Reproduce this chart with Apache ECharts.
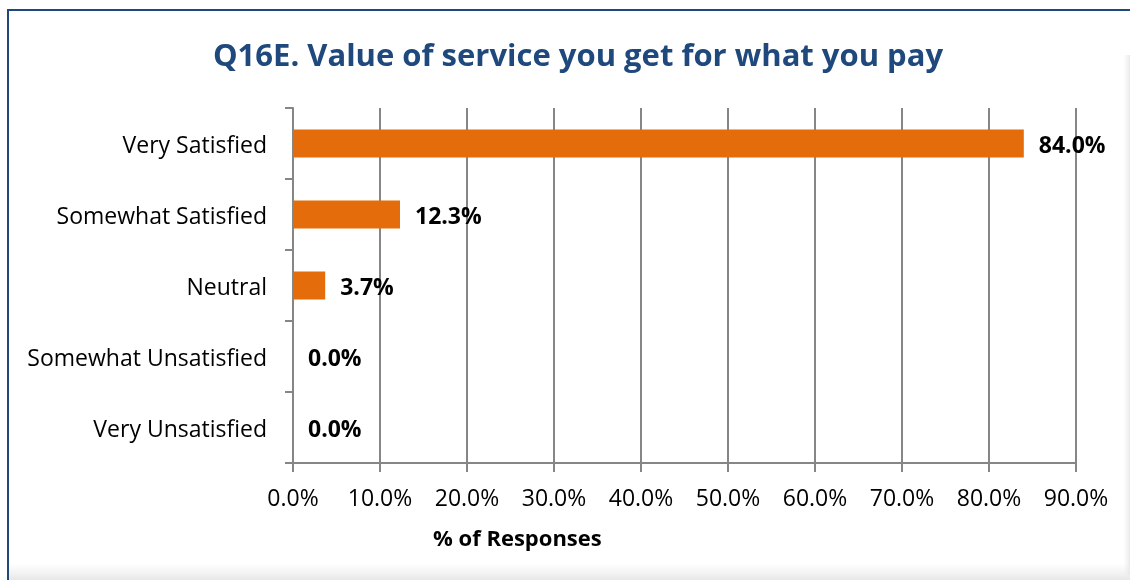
<!DOCTYPE html>
<html>
<head>
<meta charset="utf-8">
<script src="https://cdn.jsdelivr.net/npm/echarts@6/dist/echarts.min.js"></script>
<style>
html,body{margin:0;padding:0;background:#fff;}
#Charts1{width:1130px;height:580px;}
</style>
</head>
<body>
<div id="Charts1"></div>
<script>
// data
var categories = ['Very Satisfied', 'Somewhat Satisfied', 'Neutral', 'Somewhat Unsatisfied', 'Very Unsatisfied'];
var values = [84.0, 12.3, 3.7, 0.0, 0.0];
var xTicks = [0, 10, 20, 30, 40, 50, 60, 70, 80, 90];

var FONT = '"Open Sans", sans-serif';
var myChart = echarts.init(document.getElementById('Charts1'));

var option = {
	backgroundColor: '#fff',
	animation: false,
	title: {
		text: 'Q16E. Value of service you get for what you pay',
		left: 573,
		top: 37,
		textAlign: 'center',
		textStyle: {fontFamily: FONT, fontSize: 31, fontWeight: 'bold', color: '#1F497D'}
	},
	graphic: [
		// frame: blue top + left edge, faint shadow bottom/right
		{type: 'rect', shape: {x: 8, y: 10, width: 1200, height: 700},
			style: {fill: 'none', stroke: '#1F497D', lineWidth: 2}, z: 100},
		{type: 'rect', shape: {x: 9, y: 563, width: 1125, height: 20},
			style: {fill: new echarts.graphic.LinearGradient(0, 0, 0, 1, [
				{offset: 0, color: 'rgba(235,235,235,0)'}, {offset: 1, color: 'rgba(225,225,225,1)'}])}, z: 90},
		{type: 'rect', shape: {x: 1123, y: 55, width: 8, height: 520},
			style: {fill: new echarts.graphic.LinearGradient(0, 0, 1, 0, [
				{offset: 0, color: 'rgba(240,240,240,0)'}, {offset: 1, color: 'rgba(228,228,228,1)'}])}, z: 90},
		{type: 'text', left: 433, top: 529,
			style: {text: '% of Responses', font: 'bold 22px ' + FONT, fill: '#000'}}
	],
	grid: {left: 293, right: 54, top: 108, bottom: 117, containLabel: false},
	xAxis: {
		type: 'value',
		min: xTicks[0],
		max: xTicks[xTicks.length - 1],
		interval: 10,
		axisLine: {show: true, lineStyle: {color: '#868686', width: 2}},
		axisTick: {show: true, length: 9, lineStyle: {color: '#868686', width: 2}},
		splitLine: {show: true, lineStyle: {color: '#868686', width: 2}},
		axisLabel: {
			margin: 25,
			fontFamily: FONT, fontSize: 23, color: '#000',
			formatter: function (v) { return v.toFixed(1) + '%'; }
		}
	},
	yAxis: {
		type: 'category',
		inverse: true,
		data: categories,
		axisLine: {show: true, lineStyle: {color: '#868686', width: 2}},
		axisTick: {show: true, length: 8, lineStyle: {color: '#868686', width: 2}},
		splitLine: {show: false},
		axisLabel: {
			margin: 26,
			formatter: function (v) { return '{c|' + v + '}'; },
			rich: {c: {fontFamily: FONT, fontSize: 23, color: '#000', padding: [6, 0, 0, 0]}}
		}
	},
	series: [
		{
			name: '% of Responses',
			type: 'bar',
			data: values,
			barWidth: 28,
			itemStyle: {color: '#E46C0A'},
			label: {
				show: true,
				position: 'right',
				distance: 15,
				offset: [0, 3],
				fontFamily: FONT, fontSize: 23, fontWeight: 'bold', color: '#000',
				formatter: function (p) { return p.value.toFixed(1) + '%'; }
			}
		}
	]
};
myChart.setOption(option);
</script>
</body>
</html>
